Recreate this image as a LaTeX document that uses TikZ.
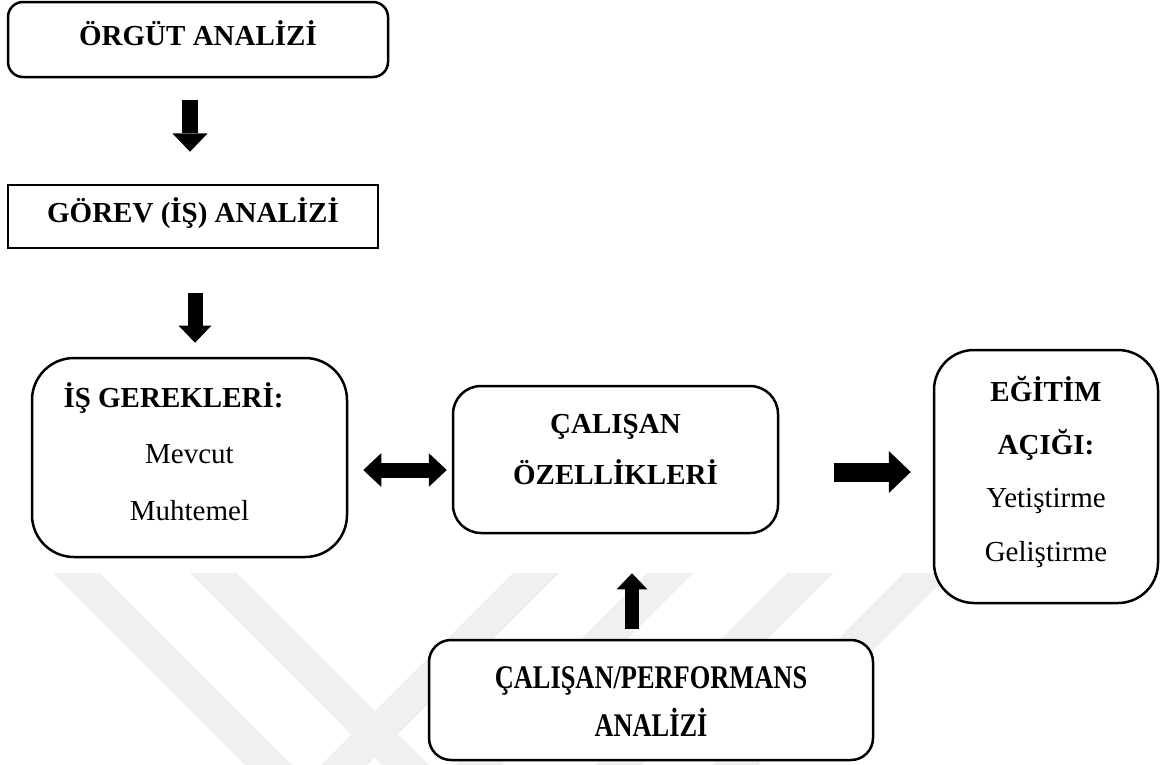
\documentclass[tikz,border=0pt]{standalone}
\usepackage{fontspec}
\setmainfont{Liberation Serif}
\usepackage{graphicx}
\usetikzlibrary{arrows.meta,positioning}

\begin{document}
\begin{tikzpicture}[x=1pt,y=-1pt,
	kutu/.style={draw=black, line width=2.5pt, fill=white, align=center, inner sep=0pt},
	okblok/.style={line width=#1, -{Triangle[width=0pt 2.2, length=0pt 1.15, line width=0pt]}},
	ikiok/.style={line width=#1, {Triangle[width=0pt 2.25, length=0pt 1.2, line width=0pt]}-{Triangle[width=0pt 2.25, length=0pt 1.2, line width=0pt]}},
	filigran/.style={fill=gray!12}]

	\useasboundingbox (0,0) rectangle (1164,764);

	% filigran (arka plan)
	\begin{scope}
		\clip (0,0) rectangle (1164,764);
		\foreach \a in {53,190}
			\fill[filigran] (\a,573) -- (\a+47,573) -- (\a+247,773) -- (\a+200,773) -- cycle;
		\foreach \b in {513,647,787,904}
			\fill[filigran] (\b,573) -- (\b+46,573) -- (\b-154,773) -- (\b-200,773) -- cycle;
	\end{scope}

	% kutular
	\node[kutu, rounded corners=15pt, minimum width=380pt, minimum height=75pt,
		font=\fontsize{29}{34}\selectfont\bfseries, text height=11pt, text depth=0pt]
		(org) at (198,39.5) {ÖRGÜT ANALİZİ};
	\node[kutu, minimum width=370pt, minimum height=63pt,
		font=\fontsize{29}{34}\selectfont\bfseries, text height=11pt, text depth=0pt]
		(gorev) at (193,216.5) {GÖREV (İŞ) ANALİZİ};
	\node[kutu, rounded corners=42pt, minimum width=315pt, minimum height=199pt,
		font=\fontsize{29}{56.5}\selectfont, text height=125pt, text depth=0pt]
		(isgerek) at (189.5,457.5) {\textbf{İŞ GEREKLERİ:}\hspace*{32pt}\\ Mevcut\\ Muhtemel};
	\node[kutu, rounded corners=28pt, minimum width=325pt, minimum height=147pt,
		font=\fontsize{29}{51}\selectfont\bfseries, text height=49pt, text depth=0pt]
		(ozellik) at (615.5,459.5) {ÇALIŞAN\\ ÖZELLİKLERİ};
	\node[kutu, rounded corners=40pt, minimum width=224pt, minimum height=253pt,
		font=\fontsize{29}{53.3}\selectfont, text height=169pt, text depth=0pt]
		(egitim) at (1046,476.5) {\textbf{EĞİTİM}\\ \textbf{AÇIĞI:}\\ Yetiştirme\\ Geliştirme};
	\node[kutu, rounded corners=22pt, minimum width=444pt, minimum height=120pt,
		font=\fontsize{33}{48}\selectfont\bfseries, text height=72pt, text depth=0pt]
		(perf) at (651,700) {\scalebox{0.8}[1]{ÇALIŞAN/PERFORMANS}\\ \scalebox{0.8}[1]{ANALİZİ}};

	% oklar
	\draw[okblok=16pt, shorten <=22pt, shorten >=32pt] (org.south -| 190,0) -- (gorev.north -| 190,0);
	\draw[okblok=15pt, shorten <=44pt, shorten >=14pt] (gorev.south -| 195,0) -- (isgerek.north -| 195,0);
	\draw[ikiok=15pt, shorten <=15pt, shorten >=5pt] (isgerek.east |- 0,470) -- (ozellik.west |- 0,470);
	\draw[okblok=19pt, shorten <=55pt, shorten >=22pt] (ozellik.east |- 0,472) -- (egitim.west |- 0,472);
	\draw[okblok=14pt, shorten <=10pt, shorten >=39pt] (perf.north -| 632,0) -- (ozellik.south -| 632,0);
\end{tikzpicture}
\end{document}
